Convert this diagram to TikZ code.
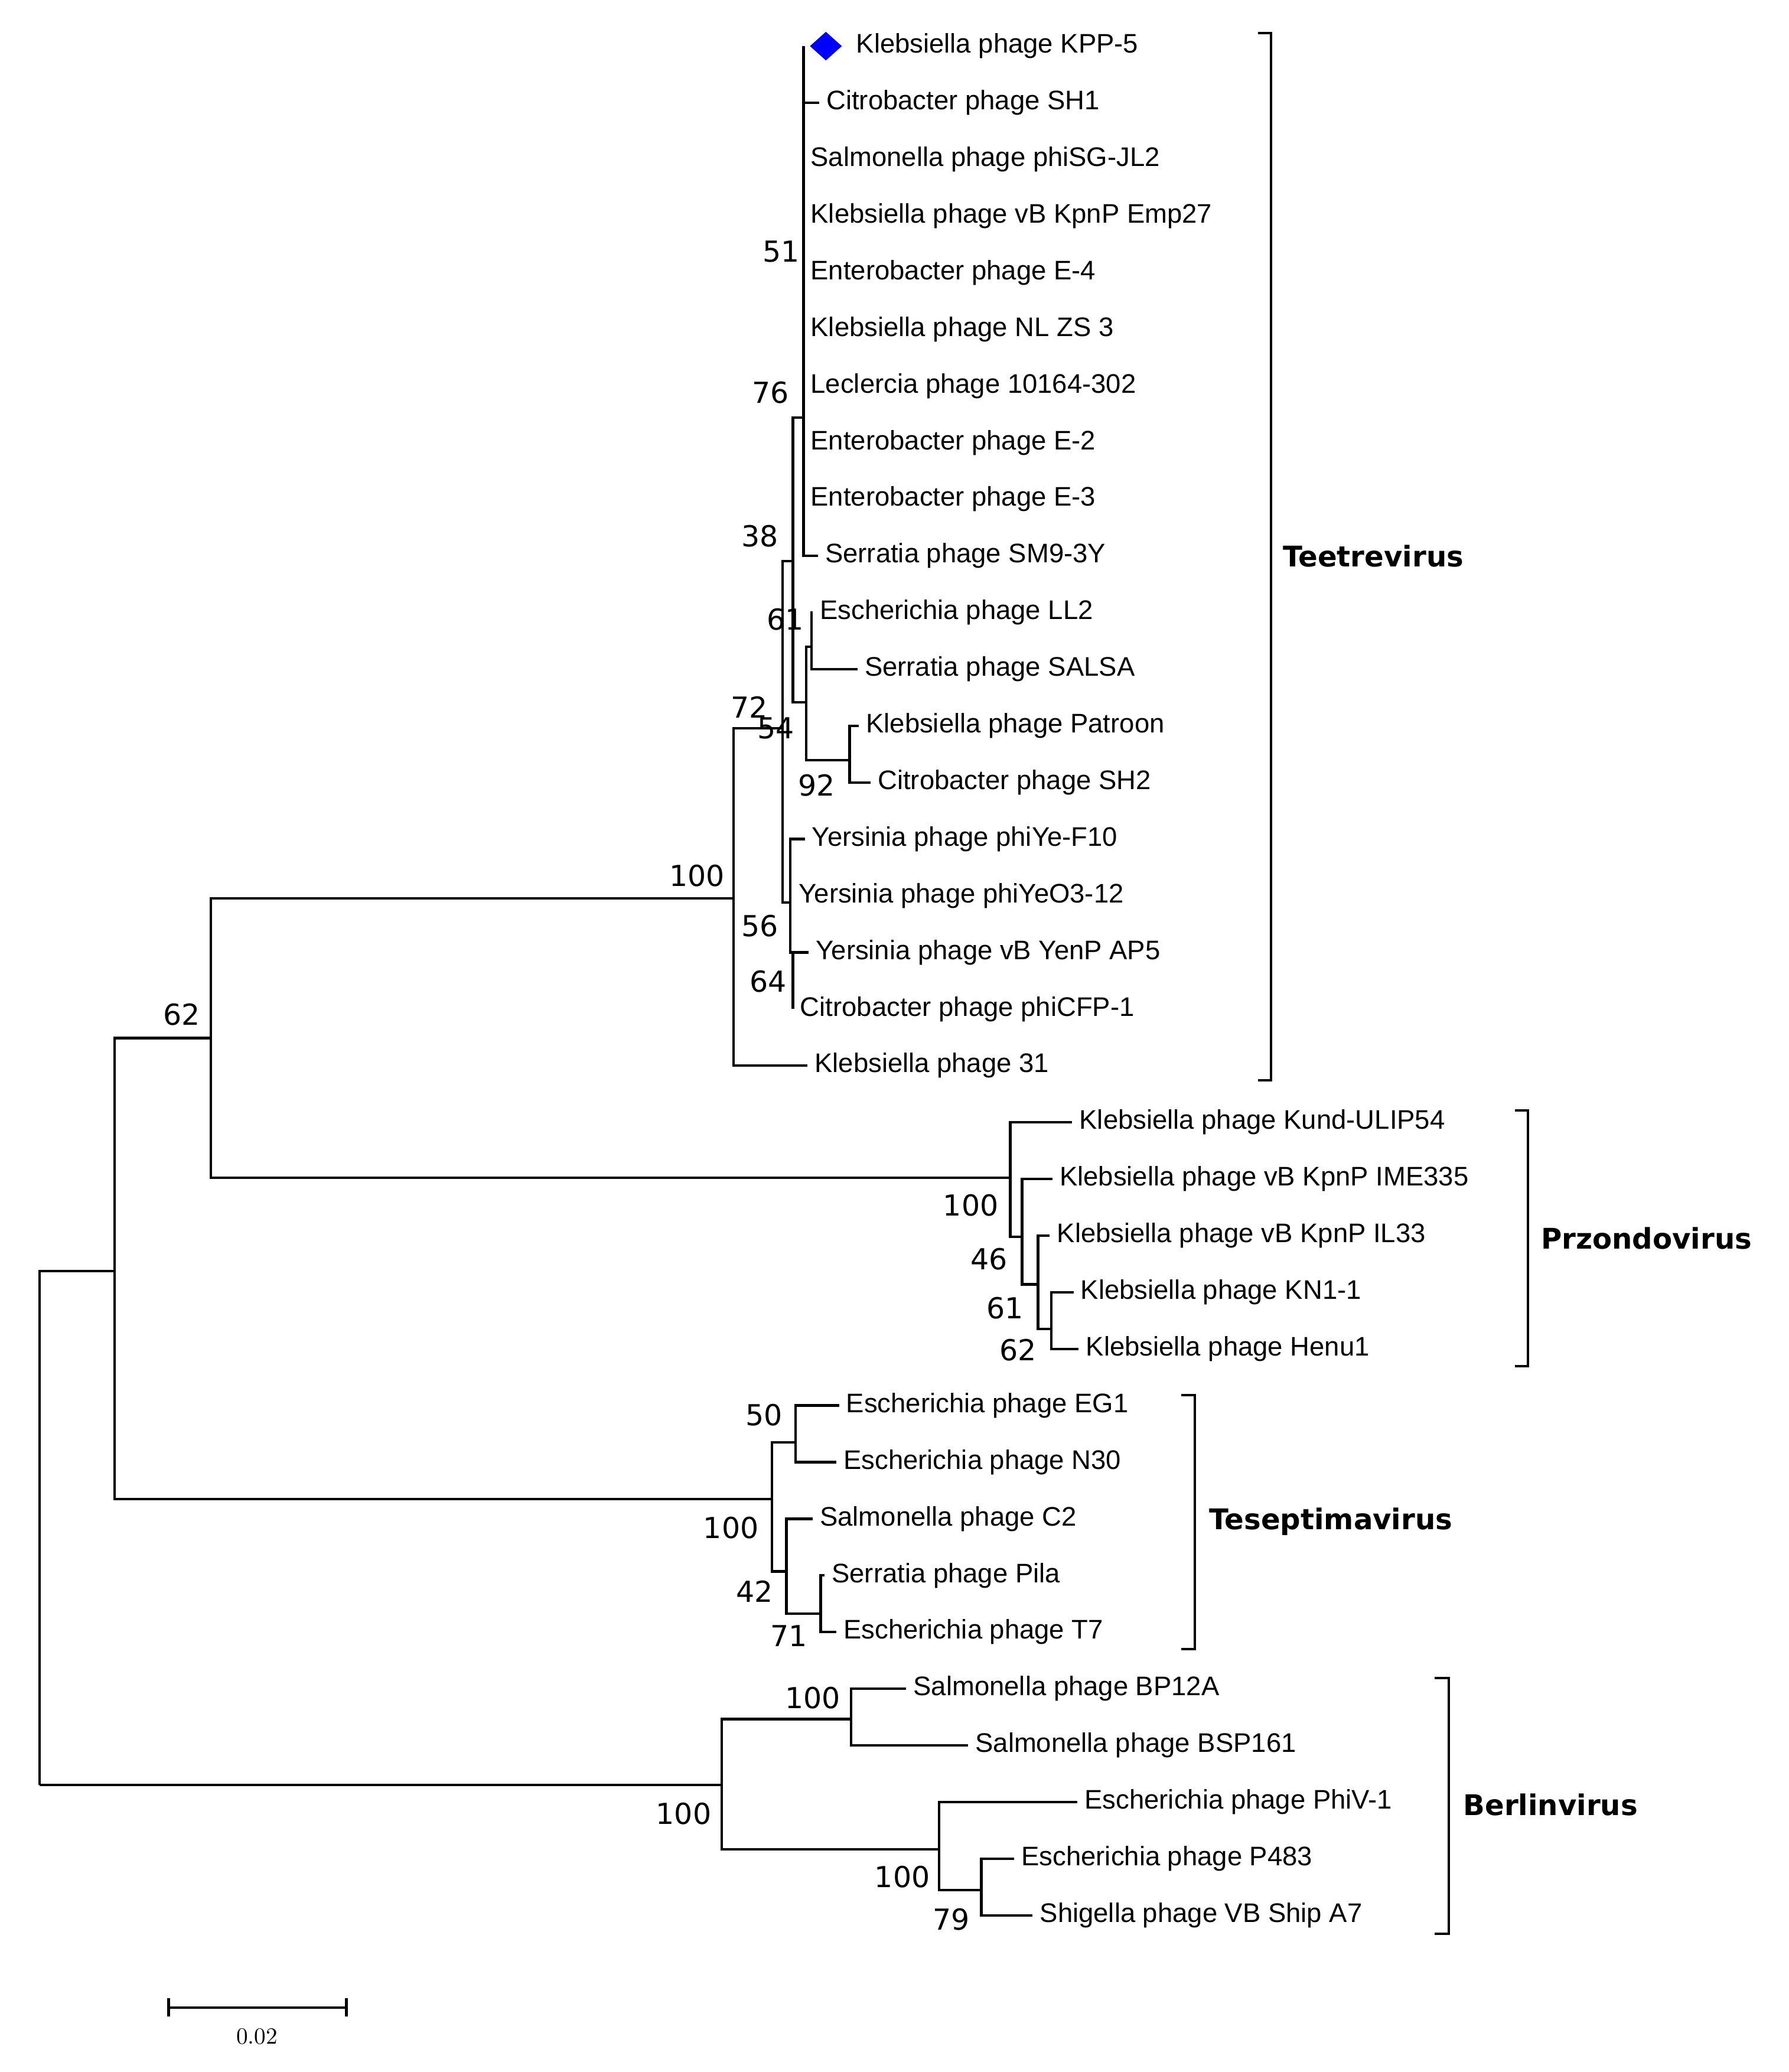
\documentclass[tikz,border=0pt]{standalone}
\usepackage{fontspec}
\setmainfont{Liberation Sans}
\newfontfamily\bsfont{DejaVu Sans}
\newfontfamily\lmfont{Latin Modern Roman}
\usetikzlibrary{shapes.geometric}
\begin{document}
\begin{tikzpicture}[x=0.02cm,y=-0.02cm,line width=1.1pt,
 leaf/.style={anchor=west,inner xsep=0.11cm,inner ysep=0pt,outer sep=0pt,font=\fontsize{11.6}{12}\selectfont},
 bs/.style={font=\bsfont\fontsize{12.5}{13}\selectfont,inner sep=0pt},
 grp/.style={anchor=west,font=\bsfont\bfseries\fontsize{12.3}{13}\selectfont,inner sep=0pt},
 br/.style={line width=1.1pt}]
\useasboundingbox (0,0) rectangle (1358,1573);
% leaves
\def\R#1{35+43*#1}
\node[leaf] (l1) at (627,{\R0}) {\hspace{10pt}Klebsiella phage KPP-5};
\node[diamond,fill=blue,minimum width=0.5cm,minimum height=0.45cm,inner sep=0pt] (dia) at (627,{\R0}) {};
\coordinate (t1) at (610,{\R0});
\node[leaf] (l2) at (622,{\R1}) {Citrobacter phage SH1};
\node[leaf] (l3) at (610,{\R2}) {Salmonella phage phiSG-JL2};
\node[leaf] (l4) at (610,{\R3}) {Klebsiella phage vB KpnP Emp27};
\node[leaf] (l5) at (610,{\R4}) {Enterobacter phage E-4};
\node[leaf] (l6) at (610,{\R5}) {Klebsiella phage NL ZS 3};
\node[leaf] (l7) at (610,{\R6}) {Leclercia phage 10164-302};
\node[leaf] (l8) at (610,{\R7}) {Enterobacter phage E-2};
\node[leaf] (l9) at (610,{\R8}) {Enterobacter phage E-3};
\node[leaf] (l10) at (621,{\R9}) {Serratia phage SM9-3Y};
\node[leaf] (l11) at (617,{\R10}) {Escherichia phage LL2};
\node[leaf] (l12) at (651,{\R11}) {Serratia phage SALSA};
\node[leaf] (l13) at (652,{\R12}) {Klebsiella phage Patroon};
\node[leaf] (l14) at (661,{\R13}) {Citrobacter phage SH2};
\node[leaf] (l15) at (611,{\R14}) {Yersinia phage phiYe-F10};
\node[leaf] (l16) at (601,{\R15}) {Yersinia phage phiYeO3-12};
\node[leaf] (l17) at (614,{\R16}) {Yersinia phage vB YenP AP5};
\node[leaf] (l18) at (602,{\R17}) {Citrobacter phage phiCFP-1};
\node[leaf] (l19) at (613,{\R18}) {Klebsiella phage 31};
\node[leaf] (l20) at (814,{\R19}) {Klebsiella phage Kund-ULIP54};
\node[leaf] (l21) at (799,{\R20}) {Klebsiella phage vB KpnP IME335};
\node[leaf] (l22) at (797,{\R21}) {Klebsiella phage vB KpnP IL33};
\node[leaf] (l23) at (815,{\R22}) {Klebsiella phage KN1-1};
\node[leaf] (l24) at (819,{\R23}) {Klebsiella phage Henu1};
\node[leaf] (l25) at (637,{\R24}) {Escherichia phage EG1};
\node[leaf] (l26) at (635,{\R25}) {Escherichia phage N30};
\node[leaf] (l27) at (617,{\R26}) {Salmonella phage C2};
\node[leaf] (l28) at (626,{\R27}) {Serratia phage Pila};
\node[leaf] (l29) at (635,{\R28}) {Escherichia phage T7};
\node[leaf] (l30) at (688,{\R29}) {Salmonella phage BP12A};
\node[leaf] (l31) at (735,{\R30}) {Salmonella phage BSP161};
\node[leaf] (l32) at (818,{\R31}) {Escherichia phage PhiV-1};
\node[leaf] (l33) at (770,{\R32}) {Escherichia phage P483};
\node[leaf] (l34) at (784,{\R33}) {Shigella phage VB Ship A7};
% internal
\coordinate (A51) at (610,317);
\coordinate (N76) at (602,426);
\coordinate (N54) at (612,533);
\coordinate (N61) at (616,491);
\coordinate (N92) at (645,577);
\coordinate (N38) at (594,553);
\coordinate (N56) at (600,685);
\coordinate (N64) at (602,723);
\coordinate (N100t) at (557,682);
\coordinate (N62) at (160,788);
\coordinate (Np100) at (767,894);
\coordinate (N46) at (776,939);
\coordinate (N61p) at (788,975);
\coordinate (N62p) at (798,1009);
\coordinate (N87) at (87,965);
\coordinate (Nt100) at (586,1138);
\coordinate (N50) at (604,1095);
\coordinate (N42) at (597,1193);
\coordinate (N71) at (623,1225);
\coordinate (Root) at (30,1355);
\coordinate (Nb100) at (548,1355);
\coordinate (Nbp) at (646,1305);
\coordinate (Nb2) at (713,1404);
\coordinate (N79) at (745,1435);
% branches
\foreach \c in {t1,l2.west,l3.west,l4.west,l5.west,l6.west,l7.west,l8.west,l9.west,l10.west} \draw (A51) |- (\c);
\draw (N61) |- (l11.west); \draw (N61) |- (l12.west);
\draw (N92) |- (l13.west); \draw (N92) |- (l14.west);
\draw (N54) |- (N61); \draw (N54) |- (N92);
\draw (N76) |- (A51); \draw (N76) |- (N54);
\draw (N64) |- (l17.west); \draw (N64) |- (l18.west);
\draw (N56) |- (l15.west); \draw (N56) |- (l16.west); \draw (N56) |- (N64);
\draw (N38) |- (N76); \draw (N38) |- (N56);
\draw (N100t) |- (N38); \draw (N100t) |- (l19.west);
\draw (N62p) |- (l23.west); \draw (N62p) |- (l24.west);
\draw (N61p) |- (l22.west); \draw (N61p) |- (N62p);
\draw (N46) |- (l21.west); \draw (N46) |- (N61p);
\draw (Np100) |- (l20.west); \draw (Np100) |- (N46);
\draw (N62) |- (N100t); \draw (N62) |- (Np100);
\draw (N50) |- (l25.west); \draw (N50) |- (l26.west);
\draw (N71) |- (l28.west); \draw (N71) |- (l29.west);
\draw (N42) |- (l27.west); \draw (N42) |- (N71);
\draw (Nt100) |- (N50); \draw (Nt100) |- (N42);
\draw (N87) |- (N62); \draw (N87) |- (Nt100);
\draw (Nbp) |- (l30.west); \draw (Nbp) |- (l31.west);
\draw (N79) |- (l33.west); \draw (N79) |- (l34.west);
\draw (Nb2) |- (l32.west); \draw (Nb2) |- (N79);
\draw (Nb100) |- (Nbp); \draw (Nb100) |- (Nb2);
\draw (Root) |- (N87); \draw (Root) -- (Nb100);
% bootstrap
\foreach \p/\t in {{593,191}/51,{585,298}/76,{577,407}/38,{596,470}/61,{569,537}/72,{589,553}/54,{620,596}/92,{529,665}/100,{577,703}/56,{583,745}/64,{138,770}/62,{737,915}/100,{751,956}/46,{763,993}/61,{773,1025}/62,{580,1074}/50,{555,1160}/100,{573,1208}/42,{599,1242}/71,{617,1289}/100,{519,1377}/100,{685,1425}/100,{722,1457}/79}
  \node[bs] at (\p) {\t};
% brackets
\draw[br] (955,25) -- (965,25) -- (965,820) -- (955,820);
\node[grp] (g1) at (973,422) {Teetrevirus};
\draw[br] (1150,843) -- (1160,843) -- (1160,1037) -- (1150,1037);
\node[grp] (g2) at (1169,940) {Przondovirus};
\draw[br] (897,1059) -- (907,1059) -- (907,1252) -- (897,1252);
\node[grp] (g3) at (917,1155) {Teseptimavirus};
\draw[br] (1089,1274) -- (1100,1274) -- (1100,1468) -- (1089,1468);
\node[grp] (g4) at (1110,1370) {Berlinvirus};
% scale bar
\coordinate (s1) at (128,1524); \coordinate (s2) at (263,1524);
\draw (s1) -- (s2);
\draw (128,1517) -- (128,1531); \draw (263,1517) -- (263,1531);
\node[font=\lmfont\fontsize{10}{11}\selectfont,inner sep=0pt] (sl) at (195,1546) {0.02};
\end{tikzpicture}
\end{document}
